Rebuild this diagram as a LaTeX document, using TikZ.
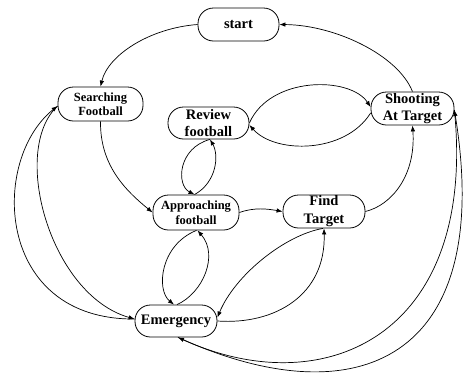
\documentclass[tikz,border=0pt]{standalone}
\usepackage{fontspec}
\setmainfont{Liberation Serif}
\usetikzlibrary{arrows.meta}
\begin{document}
\begin{tikzpicture}[x=1pt,y=-1pt,
  stbox/.style={draw, line width=0.8pt, rounded corners=15.5pt, align=center, inner sep=0pt,
    font=\bfseries\fontsize{14.5}{17}\selectfont},
  smallf/.style={font=\bfseries\fontsize{12.5}{14}\selectfont},
  arr/.style={-{Latex[length=6pt,width=4.5pt]}, line width=0.7pt}]
\useasboundingbox (0,0) rectangle (464,376);
% nodes
\node[stbox, minimum width=81pt, minimum height=33pt] (start) at (238.5,24.5) {start};
\node[stbox, smallf, minimum width=85pt, minimum height=34pt] (search) at (100.5,104) {Searching\\[-0.5pt]Football};
\node[stbox, minimum width=81pt, minimum height=32pt] (review) at (208.5,123) {Review\\football};
\node[stbox, minimum width=83pt, minimum height=33pt] (shoot) at (412.5,108.5) {Shooting\\[-0.5pt]At Target};
\node[stbox, smallf, minimum width=86pt, minimum height=35pt] (appr) at (196,212.5) {Approaching\\[1pt]football};
\node[stbox, minimum width=82pt, minimum height=33pt] (find) at (324,211.5) {Find\\[1pt]Target};
\node[stbox, minimum width=82pt, minimum height=32pt] (emer) at (176,321) {Emergency};
% helper coordinates on borders
\coordinate (S1) at ([yshift=-2pt]search.west);
\coordinate (E2) at ([yshift=2pt]emer.west);
\coordinate (R1) at ([xshift=1.5pt]review.south);
\coordinate (A1) at ([xshift=-1.5pt]appr.north);
\coordinate (P1) at ([xshift=0.5pt]appr.south);
\coordinate (P2) at ([xshift=1.5pt]appr.south);
\coordinate (Q1) at ([xshift=-2pt]emer.north);
\coordinate (Q2) at ([xshift=1pt]emer.north);
\coordinate (F1) at ([xshift=-1pt]find.south);
\coordinate (E1) at ([yshift=3.5pt]emer.east);
\coordinate (E3) at ([xshift=2pt]emer.south);
\coordinate (S3) at ([yshift=-1.5pt]shoot.east);
\coordinate (SW1) at ([yshift=1.5pt]shoot.west);
\coordinate (SW2) at ([yshift=-4.5pt]shoot.west);
\coordinate (RE2) at ([yshift=-2pt]review.east);
% edges
\draw[arr] (start.west) .. controls (150,28) and (108,55) .. (search.north);
\draw[arr] (shoot.north) .. controls (398,55) and (335,25) .. (start.east);
\draw[arr] (search.south) .. controls (100,165) and (125,190) .. (appr.west);
\draw[arr] (review.east) .. controls (270,76) and (350,76) .. (SW1);
\draw[arr] (SW2) .. controls (345,154) and (275,154) .. (RE2);
\draw[arr] (R1) .. controls (178,148) and (176,185) .. (A1);
\draw[arr] (A1) .. controls (217,182) and (219,155) .. (R1);
\draw[arr] (appr.east) .. controls (255,207) and (268,209) .. (find.west);
\draw[arr] (find.east) .. controls (392,205) and (416,175) .. (shoot.south);
\draw[arr] (P1) .. controls (160,245) and (156,290) .. (Q1);
\draw[arr] (Q2) .. controls (203,293) and (219,255) .. (P2);
\draw[arr] (F1) .. controls (285,235) and (235,275) .. (E1);
\draw[arr] (emer.east) .. controls (275,325) and (326,295) .. (find.south);
\draw[arr] (E2) .. controls (-5,320) and (-10,160) .. (S1);
\draw[arr] (S1) .. controls (10,150) and (50,295) .. (E2);
\draw[arr] (S3) .. controls (477,335) and (325,404) .. (E3);
\draw[arr] (E3) .. controls (357,419) and (495,360) .. (S3);
\end{tikzpicture}
\end{document}
